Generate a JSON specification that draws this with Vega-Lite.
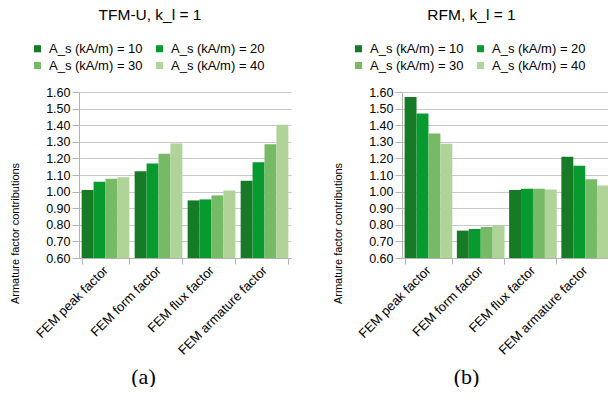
{
  "$schema": "https://vega.github.io/schema/vega-lite/v6.json",
  "padding": {"left": 9, "top": 7, "right": 0, "bottom": 0},
  "background": "white",
  "data": {
    "values": [
      {"model": "TFM-U", "factor": "FEM peak factor", "series": "A_s (kA/m) = 10", "value": 1.010},
      {"model": "TFM-U", "factor": "FEM peak factor", "series": "A_s (kA/m) = 20", "value": 1.060},
      {"model": "TFM-U", "factor": "FEM peak factor", "series": "A_s (kA/m) = 30", "value": 1.078},
      {"model": "TFM-U", "factor": "FEM peak factor", "series": "A_s (kA/m) = 40", "value": 1.087},
      {"model": "TFM-U", "factor": "FEM form factor", "series": "A_s (kA/m) = 10", "value": 1.123},
      {"model": "TFM-U", "factor": "FEM form factor", "series": "A_s (kA/m) = 20", "value": 1.170},
      {"model": "TFM-U", "factor": "FEM form factor", "series": "A_s (kA/m) = 30", "value": 1.228},
      {"model": "TFM-U", "factor": "FEM form factor", "series": "A_s (kA/m) = 40", "value": 1.290},
      {"model": "TFM-U", "factor": "FEM flux factor", "series": "A_s (kA/m) = 10", "value": 0.947},
      {"model": "TFM-U", "factor": "FEM flux factor", "series": "A_s (kA/m) = 20", "value": 0.953},
      {"model": "TFM-U", "factor": "FEM flux factor", "series": "A_s (kA/m) = 30", "value": 0.977},
      {"model": "TFM-U", "factor": "FEM flux factor", "series": "A_s (kA/m) = 40", "value": 1.007},
      {"model": "TFM-U", "factor": "FEM armature factor", "series": "A_s (kA/m) = 10", "value": 1.066},
      {"model": "TFM-U", "factor": "FEM armature factor", "series": "A_s (kA/m) = 20", "value": 1.177},
      {"model": "TFM-U", "factor": "FEM armature factor", "series": "A_s (kA/m) = 30", "value": 1.285},
      {"model": "TFM-U", "factor": "FEM armature factor", "series": "A_s (kA/m) = 40", "value": 1.403},
      {"model": "RFM", "factor": "FEM peak factor", "series": "A_s (kA/m) = 10", "value": 1.570},
      {"model": "RFM", "factor": "FEM peak factor", "series": "A_s (kA/m) = 20", "value": 1.470},
      {"model": "RFM", "factor": "FEM peak factor", "series": "A_s (kA/m) = 30", "value": 1.350},
      {"model": "RFM", "factor": "FEM peak factor", "series": "A_s (kA/m) = 40", "value": 1.288},
      {"model": "RFM", "factor": "FEM form factor", "series": "A_s (kA/m) = 10", "value": 0.765},
      {"model": "RFM", "factor": "FEM form factor", "series": "A_s (kA/m) = 20", "value": 0.775},
      {"model": "RFM", "factor": "FEM form factor", "series": "A_s (kA/m) = 30", "value": 0.787},
      {"model": "RFM", "factor": "FEM form factor", "series": "A_s (kA/m) = 40", "value": 0.798},
      {"model": "RFM", "factor": "FEM flux factor", "series": "A_s (kA/m) = 10", "value": 1.010},
      {"model": "RFM", "factor": "FEM flux factor", "series": "A_s (kA/m) = 20", "value": 1.017},
      {"model": "RFM", "factor": "FEM flux factor", "series": "A_s (kA/m) = 30", "value": 1.017},
      {"model": "RFM", "factor": "FEM flux factor", "series": "A_s (kA/m) = 40", "value": 1.012},
      {"model": "RFM", "factor": "FEM armature factor", "series": "A_s (kA/m) = 10", "value": 1.210},
      {"model": "RFM", "factor": "FEM armature factor", "series": "A_s (kA/m) = 20", "value": 1.155},
      {"model": "RFM", "factor": "FEM armature factor", "series": "A_s (kA/m) = 30", "value": 1.075},
      {"model": "RFM", "factor": "FEM armature factor", "series": "A_s (kA/m) = 40", "value": 1.037}
    ]
  },
  "bounds": "flush",
  "spacing": 111,
  "hconcat": [
    {
      "title": {"text": "TFM-U, k_l = 1"},
      "transform": [{"filter": "datum.model === 'TFM-U'"}],
      "width": 212,
      "height": 166,
      "mark": {"type": "bar"},
      "encoding": {
        "x": {
          "field": "factor", "type": "nominal",
          "sort": ["FEM peak factor", "FEM form factor", "FEM flux factor", "FEM armature factor"],
          "scale": {"paddingInner": 0.1, "paddingOuter": 0.05},
          "axis": {"title": "(a)"}
        },
        "xOffset": {"field": "series", "type": "nominal", "sort": ["A_s (kA/m) = 10", "A_s (kA/m) = 20", "A_s (kA/m) = 30", "A_s (kA/m) = 40"], "scale": {"paddingInner": 0, "paddingOuter": 0}},
        "y": {
          "field": "value", "type": "quantitative",
          "scale": {"domain": [0.6, 1.6], "zero": false, "nice": false},
          "axis": {
            "title": "Armature factor contributions",
            "values": [0.6, 0.7, 0.8, 0.9, 1.0, 1.1, 1.2, 1.3, 1.4, 1.5, 1.6],
            "labelOverlap": false,
            "labelBound": false,
            "labelFlush": false
          }
        },
        "y2": {"datum": 0.6},
        "color": {
          "field": "series", "type": "nominal",
          "scale": {"domain": ["A_s (kA/m) = 10", "A_s (kA/m) = 20", "A_s (kA/m) = 30", "A_s (kA/m) = 40"], "range": ["#177a26", "#079a2e", "#76ba65", "#b0d39a"]},
          "legend": {"legendX": -48, "legendY": -50}
        }
      }
    },
    {
      "title": {"text": "RFM, k_l = 1"},
      "transform": [{"filter": "datum.model === 'RFM'"}],
      "width": 209,
      "height": 166,
      "mark": {"type": "bar"},
      "encoding": {
        "x": {
          "field": "factor", "type": "nominal",
          "sort": ["FEM peak factor", "FEM form factor", "FEM flux factor", "FEM armature factor"],
          "scale": {"paddingInner": 0.1, "paddingOuter": 0.05},
          "axis": {"title": "(b)"}
        },
        "xOffset": {"field": "series", "type": "nominal", "sort": ["A_s (kA/m) = 10", "A_s (kA/m) = 20", "A_s (kA/m) = 30", "A_s (kA/m) = 40"], "scale": {"paddingInner": 0, "paddingOuter": 0}},
        "y": {
          "field": "value", "type": "quantitative",
          "scale": {"domain": [0.6, 1.6], "zero": false, "nice": false},
          "axis": {
            "title": "Armature factor contributions",
            "values": [0.6, 0.7, 0.8, 0.9, 1.0, 1.1, 1.2, 1.3, 1.4, 1.5, 1.6],
            "labelOverlap": false,
            "labelBound": false,
            "labelFlush": false
          }
        },
        "y2": {"datum": 0.6},
        "color": {
          "field": "series", "type": "nominal",
          "scale": {"domain": ["A_s (kA/m) = 10", "A_s (kA/m) = 20", "A_s (kA/m) = 30", "A_s (kA/m) = 40"], "range": ["#177a26", "#079a2e", "#76ba65", "#b0d39a"]},
          "legend": {"legendX": -50, "legendY": -50}
        }
      }
    }
  ],
  "resolve": {"scale": {"color": "independent"}, "legend": {"color": "independent"}},
  "config": {
    "font": "Liberation Sans",
    "view": {"stroke": null},
    "title": {"fontSize": 15.5, "fontWeight": "normal", "color": "#000000", "frame": "bounds", "anchor": "middle", "offset": 19},
    "axis": {
      "labelColor": "#000000", "titleColor": "#000000",
      "domainColor": "#b3b3b3", "tickColor": "#b3b3b3", "gridColor": "#c8c8c8"
    },
    "axisY": {
      "format": ".2f",
      "labelFontSize": 12.5,
      "labelPadding": 2,
      "tickSize": 7,
      "titleFontSize": 11,
      "titleFontWeight": "normal",
      "titleX": -64,
      "titleY": 141,
      "titleBaseline": "middle"
    },
    "axisX": {
      "grid": false,
      "tickBand": "extent",
      "tickSize": 6,
      "labelAngle": -45,
      "labelAlign": "right",
      "labelBaseline": "middle",
      "labelFontSize": 13,
      "labelPadding": 4,
      "titleFont": "Liberation Serif",
      "titleFontSize": 22,
      "titleFontWeight": "normal",
      "titleX": 64,
      "titleY": 118,
      "titleBaseline": "middle"
    },
    "legend": {
      "orient": "none",
      "direction": "horizontal",
      "columns": 2,
      "title": null,
      "symbolType": "square",
      "symbolSize": 50,
      "symbolStrokeWidth": 0,
      "labelFontSize": 13,
      "labelColor": "#000000",
      "labelOffset": 5,
      "columnPadding": 10,
      "rowPadding": 3,
      "padding": 0
    }
  }
}
